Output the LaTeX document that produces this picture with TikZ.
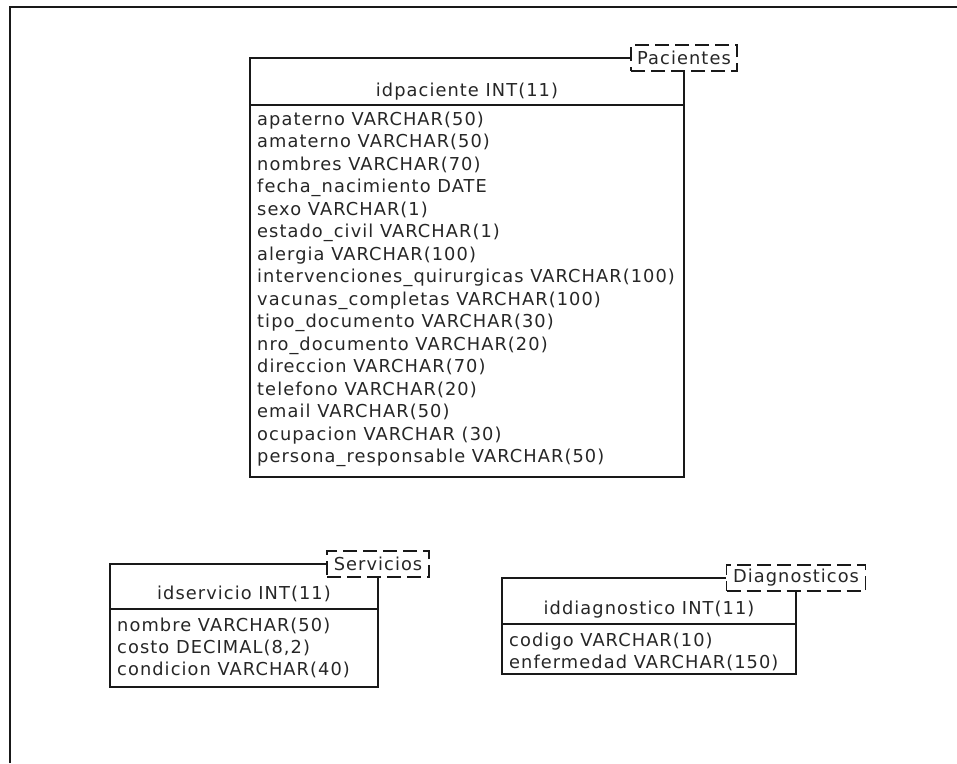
\documentclass[tikz,border=0pt]{standalone}
\usepackage{fontspec}
\newfontfamily\erfont{DejaVu Sans}[LetterSpace=6]
\begin{document}
\begin{tikzpicture}[x=1pt,y=-1pt,
  every node/.style={font=\erfont\fontsize{17.8}{22.5}\selectfont, text=black!85, inner sep=0pt},
  frame/.style={line width=2.2pt, draw=black!90},
  tablebox/.style={line width=1.3pt, draw=black!90},
  tag/.style={draw=black!90, line width=1.3pt, dash pattern=on 14pt off 6pt,
    minimum width=#1, minimum height=26pt, inner sep=0pt},
  attr/.style={anchor=base west},
  head/.style={anchor=base}]

\useasboundingbox (0,0) rectangle (957,763);

% outer page frame (top and left edges)
\coordinate (fbl) at (10,763);
\coordinate (ftl) at (10,7);
\coordinate (ftr) at (957,7);
\draw[frame] (fbl) -- (ftl) -- (ftr);

% ---------------- Pacientes ----------------
\node[tag=106pt] (pacT) at (684,58) {Pacientes};
\coordinate (pacTL) at (250,58);
\coordinate (pacBL) at (250,477);
\coordinate (pacBR) at (684,477);
\coordinate (pacSL) at (250,105);
\coordinate (pacSR) at (684,105);
\draw[tablebox] (pacT.west) -- (pacTL) -- (pacBL) -- (pacBR) -- (pacT.south);
\draw[tablebox] (pacSL) -- (pacSR);
\node[head] (pacH) at (467,96) {idpaciente INT(11)};
\foreach \t [count=\i] in {
  apaterno VARCHAR(50),
  amaterno VARCHAR(50),
  nombres VARCHAR(70),
  fecha\_nacimiento DATE,
  sexo VARCHAR(1),
  estado\_civil VARCHAR(1),
  alergia VARCHAR(100),
  intervenciones\_quirurgicas VARCHAR(100),
  vacunas\_completas VARCHAR(100),
  tipo\_documento VARCHAR(30),
  nro\_documento VARCHAR(20),
  direccion VARCHAR(70),
  telefono VARCHAR(20),
  email VARCHAR(50),
  ocupacion VARCHAR (30),
  persona\_responsable VARCHAR(50)}
  \node[attr] (pacA\i) at (257,{125+(\i-1)*22.5}) {\t};

% ---------------- Servicios ----------------
\node[tag=102pt] (serT) at (378,564) {Servicios};
\coordinate (serTL) at (110,564);
\coordinate (serBL) at (110,687);
\coordinate (serBR) at (378,687);
\coordinate (serSL) at (110,609);
\coordinate (serSR) at (378,609);
\draw[tablebox] (serT.west) -- (serTL) -- (serBL) -- (serBR) -- (serT.south);
\draw[tablebox] (serSL) -- (serSR);
\node[head] (serH) at (244,599) {idservicio INT(11)};
\foreach \t [count=\i] in {
  {nombre VARCHAR(50)},
  {costo DECIMAL(8,2)},
  {condicion VARCHAR(40)}}
  \node[attr] (serA\i) at (117,{631+(\i-1)*22}) {\t};

% ---------------- Diagnosticos ----------------
\node[tag=139pt] (diaT) at (796,578) {Diagnosticos};
\coordinate (diaTL) at (502,578);
\coordinate (diaBL) at (502,674);
\coordinate (diaBR) at (796,674);
\coordinate (diaSL) at (502,624);
\coordinate (diaSR) at (796,624);
\draw[tablebox] (diaT.west) -- (diaTL) -- (diaBL) -- (diaBR) -- (diaT.south);
\draw[tablebox] (diaSL) -- (diaSR);
\node[head] (diaH) at (649,614) {iddiagnostico INT(11)};
\foreach \t [count=\i] in {
  codigo VARCHAR(10),
  enfermedad VARCHAR(150)}
  \node[attr] (diaA\i) at (509,{646+(\i-1)*22}) {\t};
\end{tikzpicture}
\end{document}
